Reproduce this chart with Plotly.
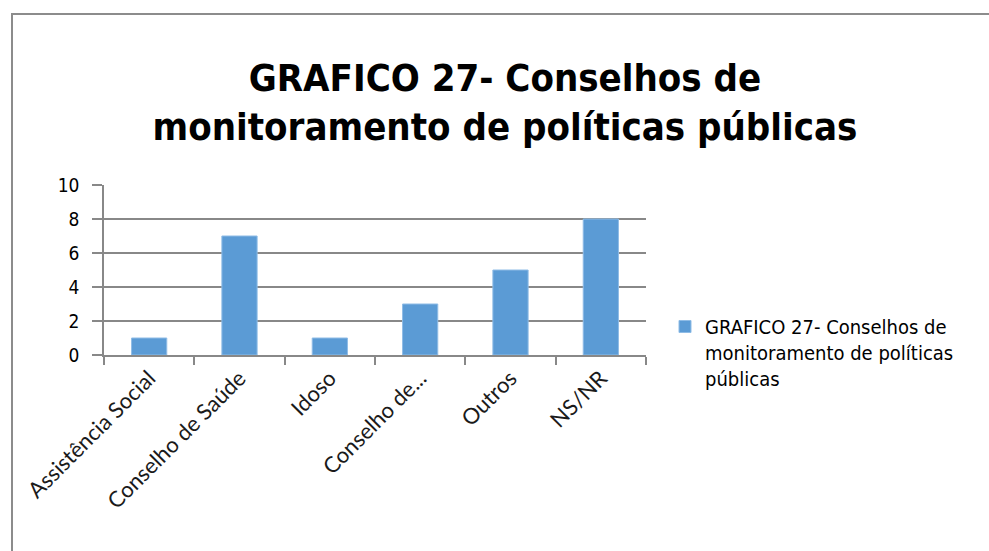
import plotly.graph_objects as go

categories = ["Assistência Social", "Conselho de Saúde", "Idoso", "Conselho de...", "Outros", "NS/NR"]
values = [1, 7, 1, 3, 5, 8]
series_name = "GRAFICO 27- Conselhos de<br>monitoramento de políticas<br>públicas"
title_text = "GRAFICO 27- Conselhos de<br>monitoramento de políticas públicas"
y_ticks = [0, 2, 4, 6, 8, 10]

W, H = 989, 551
L, R, T, B = 104, 343, 185, 196
PW, PH = W - L - R, H - T - B

narrow = "DejaVu Sans Condensed, Liberation Sans Narrow, sans-serif"

fig = go.Figure()
fig.add_trace(go.Bar(
    x=categories, y=values, name=series_name,
    marker=dict(color="#5B9BD5", line=dict(width=1, color="#8FBCE6")),
    showlegend=True,
))

fig.update_layout(
    width=W, height=H,
    margin=dict(l=L, r=R, t=T, b=B, pad=0),
    paper_bgcolor="white", plot_bgcolor="white",
    bargap=0.61,
    title=dict(
        text="<b>" + title_text + "</b>",
        x=505 / W, xanchor="center", xref="container",
        y=1 - 91 / H, yanchor="middle", yref="container",
        font=dict(family=narrow, size=38, color="black"),
    ),
    xaxis=dict(
        type="category",
        showline=True, linecolor="#888888", linewidth=1.5,
        ticks="outside", ticklen=8, tickcolor="#888888", tickwidth=1.5,
        tickangle=-45,
        tickfont=dict(family="Lato, Open Sans, sans-serif", size=22, color="#1a1a1a"),
        showgrid=False,
        tickson="boundaries",
    ),
    yaxis=dict(
        range=[0, 10], tickvals=y_ticks,
        showline=True, linecolor="#888888", linewidth=1.5,
        ticks="outside", ticklen=10, tickcolor="#888888", tickwidth=1.5,
        showgrid=True, gridcolor="#888888", gridwidth=1.5,
        zeroline=False,
        ticklabelstandoff=9,
        tickfont=dict(family=narrow, size=19, color="black"),
    ),
    legend=dict(
        x=(665 - L) / PW, xanchor="left",
        y=(H - B - 307) / PH, yanchor="top",
        valign="top",
        font=dict(family=narrow, size=20, color="black"),
        bgcolor="rgba(0,0,0,0)",
        itemwidth=30,
    ),
    shapes=[dict(
        type="rect", xref="paper", yref="paper",
        x0=(12 - L) / PW, x1=4,
        y0=-5, y1=(H - B - 14) / PH,
        line=dict(color="#8c8c8c", width=2),
        fillcolor="rgba(0,0,0,0)", layer="below",
    )],
)

fig.write_html("out.html")
